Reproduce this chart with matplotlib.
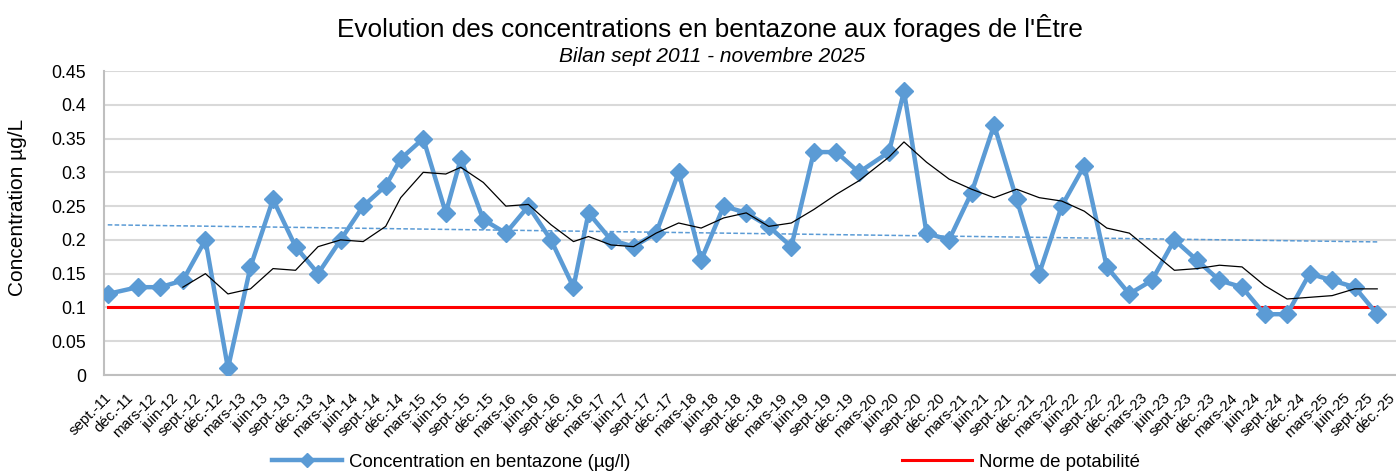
import matplotlib
matplotlib.use("Agg")
import matplotlib.pyplot as plt
import matplotlib.transforms as mtransforms
from matplotlib.lines import Line2D
import numpy as np

plt.rcParams["font.family"] = ["Liberation Sans", "DejaVu Sans"]

# dates des prélèvements (année-mois)
dates = [
	"2011-09", "2012-01", "2012-04", "2012-07", "2012-10", "2013-01", "2013-04", "2013-07",
	"2013-10", "2014-01", "2014-04", "2014-07", "2014-10", "2014-12", "2015-03", "2015-06",
	"2015-08", "2015-11", "2016-02", "2016-05", "2016-08", "2016-11", "2017-01", "2017-04",
	"2017-07", "2017-10", "2018-01", "2018-04", "2018-07", "2018-10", "2019-01", "2019-04",
	"2019-07", "2019-10", "2020-01", "2020-05", "2020-07", "2020-10", "2021-01", "2021-04",
	"2021-07", "2021-10", "2022-01", "2022-04", "2022-07", "2022-10", "2023-01", "2023-04",
	"2023-07", "2023-10", "2024-01", "2024-04", "2024-07", "2024-10", "2025-01", "2025-04",
	"2025-07", "2025-10",
]
# concentrations en bentazone (µg/l)
concentrations = [
	0.12, 0.13, 0.13, 0.14, 0.20, 0.01, 0.16, 0.26, 0.19, 0.15, 0.20, 0.25, 0.28, 0.32,
	0.35, 0.24, 0.32, 0.23, 0.21, 0.25, 0.20, 0.13, 0.24, 0.20, 0.19, 0.21, 0.30, 0.17,
	0.25, 0.24, 0.22, 0.19, 0.33, 0.33, 0.30, 0.33, 0.42, 0.21, 0.20, 0.27, 0.37, 0.26,
	0.15, 0.25, 0.31, 0.16, 0.12, 0.14, 0.20, 0.17, 0.14, 0.13, 0.09, 0.09, 0.15, 0.14,
	0.13, 0.09,
]
norme = 0.1
mois_fr = {3: "mars", 6: "juin", 9: "sept.", 12: "déc."}
debut = (2011, 9)
fin = (2025, 12)


def month_index(year, month):
	return (year - debut[0]) * 12 + (month - debut[1])


x = np.array([month_index(int(d[:4]), int(d[5:])) for d in dates]) + 0.5
y = np.array(concentrations)

# moyenne mobile sur 4 périodes
mm = np.convolve(y, np.ones(4) / 4, mode="valid")
# tendance linéaire
coef = np.polyfit(x, y, 1)

fig = plt.figure(figsize=(13.96, 4.72), dpi=100)
ax = fig.add_axes([104 / 1396, 97 / 472, 1292 / 1396, 304 / 472])

blue = "#5B9BD5"
ax.plot(x, y, color=blue, lw=3.2, marker="D", ms=9, zorder=4)
ax.plot(x, np.full_like(y, norme), color="#FF0000", lw=2.2, zorder=3)
ax.plot(x[3:], mm, color="black", lw=0.9, zorder=5)
ax.plot(x, np.polyval(coef, x), color=blue, lw=1.1, ls=(0, (3, 1.5)), zorder=3)

# axe des dates, graduations trimestrielles
ticks = []
labels = []
yr, mo = 2011, 9
while (yr, mo) <= fin:
	ticks.append(month_index(yr, mo) + 0.5)
	labels.append(f"{mois_fr[mo]}-{str(yr)[2:]}")
	mo += 3
	if mo > 12:
		mo -= 12
		yr += 1

ax.set_xlim(0, month_index(*fin) + 1)
ax.set_xticks(ticks)
ax.set_xticklabels(labels, rotation=45, ha="right", va="top", rotation_mode="anchor", fontsize=10.8)
ax.tick_params(axis="x", length=0, pad=11.5)
shift = mtransforms.ScaledTranslation(-0.04, 0, fig.dpi_scale_trans)
for lab in ax.get_xticklabels():
	lab.set_transform(lab.get_transform() + shift)

ax.set_ylim(0, 0.45)
yt = np.arange(0, 0.451, 0.05)
ax.set_yticks(yt)
ax.set_yticklabels([f"{v:g}" for v in np.round(yt, 2)], fontsize=12.8)
ax.tick_params(axis="y", length=0, pad=13)

ax.grid(axis="y", color="#d9d9d9", lw=1.5)
ax.set_axisbelow(True)
for s in ["top", "right"]:
	ax.spines[s].set_visible(False)
for s in ["left", "bottom"]:
	ax.spines[s].set_color("#bfbfbf")
	ax.spines[s].set_linewidth(1.5)

fig.text(18 / 1396, 1 - 207 / 472, "Concentration µg/L", rotation=90, ha="center", va="center", fontsize=15)
fig.text(710 / 1396, 1 - 28 / 472, "Evolution des concentrations en bentazone aux forages de l'Être",
	ha="center", va="center", fontsize=18.8)
fig.text(712 / 1396, 1 - 56 / 472, "Bilan sept 2011 - novembre 2025", ha="center", va="center",
	fontsize=15, style="italic")

handles = [
	Line2D([], [], color=blue, lw=3.2, marker="D", ms=7),
	Line2D([], [], color="#FF0000", lw=2.2),
]
fig.legend(handles, ["Concentration en bentazone (µg/l)", "Norme de potabilité"],
	loc="center", bbox_to_anchor=(706 / 1396, 1 - 462 / 472), ncol=2, frameon=False,
	fontsize=13.4, handlelength=3.76, handletextpad=0.38, columnspacing=14.6)

fig.savefig("out.png", dpi=100)
